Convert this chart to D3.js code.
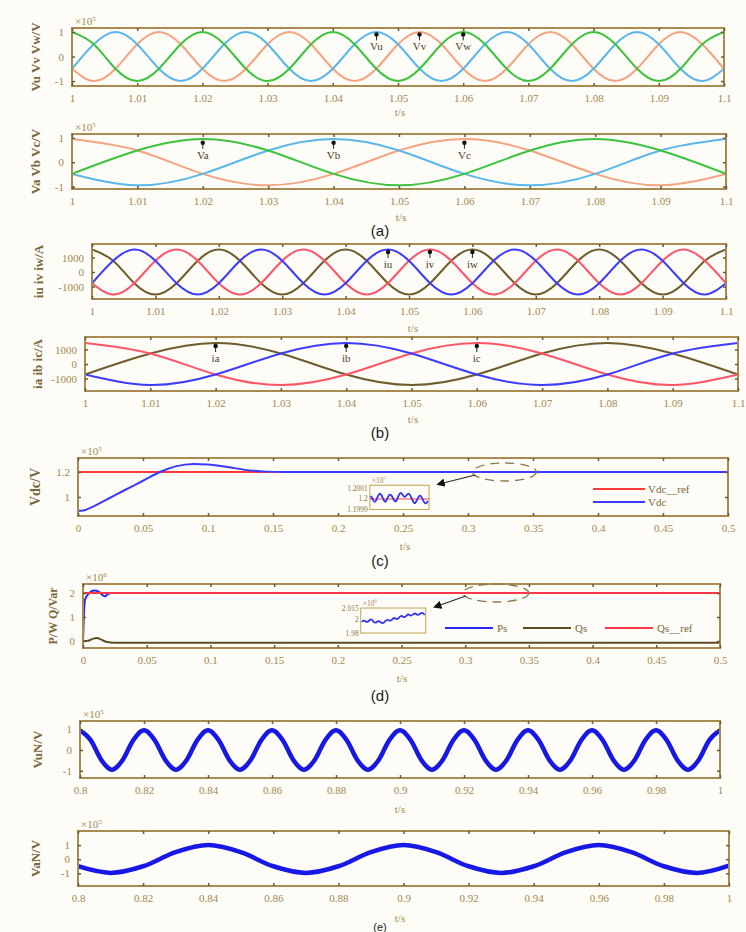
<!DOCTYPE html>
<html>
<head>
<meta charset="utf-8">
<script src="https://cdn.jsdelivr.net/npm/d3@7"></script>
<style>
  body { margin: 0; background: #fdfcf7; }
  svg { display: block; font-family: "Liberation Serif", "DejaVu Serif", serif; }
</style>
</head>
<body>
<script>
// ---- data ----

// (a) upper: Vu Vv Vw, x10^5 V, one sample every 1/300 s from t = 1
const vu = [-0.5,0.5,1,0.5,-0.5,-1, -0.5,0.5,1,0.5,-0.5,-1, -0.5,0.5,1,0.5,-0.5,-1,
            -0.5,0.5,1,0.5,-0.5,-1, -0.5,0.5,1,0.5,-0.5,-1, -0.5];
const vv = [-0.5,-1,-0.5,0.5,1,0.5, -0.5,-1,-0.5,0.5,1,0.5, -0.5,-1,-0.5,0.5,1,0.5,
            -0.5,-1,-0.5,0.5,1,0.5, -0.5,-1,-0.5,0.5,1,0.5, -0.5];
const vw = [1,0.5,-0.5,-1,-0.5,0.5, 1,0.5,-0.5,-1,-0.5,0.5, 1,0.5,-0.5,-1,-0.5,0.5,
            1,0.5,-0.5,-1,-0.5,0.5, 1,0.5,-0.5,-1,-0.5,0.5, 1];

// (a) lower: Va Vb Vc, one sample every 0.01 s from t = 1
const va = [-0.48,0.48,0.95,0.48,-0.48,-0.95,-0.48,0.48,0.95,0.48,-0.48];
const vb = [-0.48,-0.95,-0.48,0.48,0.95,0.48,-0.48,-0.95,-0.48,0.48,0.95];
const vc = [0.95,0.48,-0.48,-0.95,-0.48,0.48,0.95,0.48,-0.48,-0.95,-0.48];

// (b) upper: iu iv iw in A, every 1/300 s
const iu = [-775,775,1550,775,-775,-1550, -775,775,1550,775,-775,-1550, -775,775,1550,775,-775,-1550,
            -775,775,1550,775,-775,-1550, -775,775,1550,775,-775,-1550, -775];
const iv = [-775,-1550,-775,775,1550,775, -775,-1550,-775,775,1550,775, -775,-1550,-775,775,1550,775,
            -775,-1550,-775,775,1550,775, -775,-1550,-775,775,1550,775, -775];
const iw = [1550,775,-775,-1550,-775,775, 1550,775,-775,-1550,-775,775, 1550,775,-775,-1550,-775,775,
            1550,775,-775,-1550,-775,775, 1550,775,-775,-1550,-775,775, 1550];

// (b) lower: ia ib ic in A, every 0.01 s
const ia = [-725,725,1450,725,-725,-1450,-725,725,1450,725,-725];
const ib = [-725,-1450,-725,725,1450,725,-725,-1450,-725,725,1450];
const ic = [1450,725,-725,-1450,-725,725,1450,725,-725,-1450,-725];

// (c) DC voltage, x10^5 V
const tVdc = [0,0.004,0.012,0.024,0.035,0.05,0.063,0.075,0.089,0.1,0.115,0.13,0.145,0.16,0.2,0.5];
const vdc  = [0.89,0.892,0.925,0.99,1.05,1.13,1.2,1.245,1.265,1.26,1.24,1.215,1.203,1.2,1.2,1.2];
const tRef = [0,0.5];
const vdcRef = [1.2,1.2];
const vdcZoom = [1.20003,1.19999,1.19996,1.20001,1.20006,1.20004,1.19999,1.19996,1.20002,1.20005,
                 1.20003,1.19998,1.19997,1.20003,1.20007,1.20004,1.20001,1.20004,1.20006,1.20002,
                 1.19997,1.19995,1.2,1.20004,1.20002,1.19997,1.19995,1.19998];

// (d) powers, x10^6
const tPs = [0,0.0005,0.001,0.0015,0.003,0.006,0.009,0.012,0.015,0.017,0.019,0.022,0.5];
const ps  = [0,0.8,1.4,1.7,1.88,2.05,2.1,2.07,1.93,1.86,1.93,2.0,2.0];
const tQs = [0,0.004,0.008,0.011,0.014,0.018,0.025,0.5];
const qs  = [0,0.01,0.1,0.13,0.07,-0.03,-0.07,-0.07];
const qsRef = [2,2];
const psZoom = [1.996,1.999,1.995,1.997,2.001,1.996,1.994,1.998,1.996,1.993,1.997,2.0,1.997,1.999,
                2.003,1.999,2.002,2.006,2.002,2.004,2.008,2.004,2.007,2.009,2.005,2.008,2.01,2.006];

// (e) upper: VuN, every 1/300 s from t = 0.8
const vuN = [0.95,0.48,-0.48,-0.95,-0.48,0.48, 0.95,0.48,-0.48,-0.95,-0.48,0.48,
             0.95,0.48,-0.48,-0.95,-0.48,0.48, 0.95,0.48,-0.48,-0.95,-0.48,0.48,
             0.95,0.48,-0.48,-0.95,-0.48,0.48, 0.95,0.48,-0.48,-0.95,-0.48,0.48,
             0.95,0.48,-0.48,-0.95,-0.48,0.48, 0.95,0.48,-0.48,-0.95,-0.48,0.48,
             0.95,0.48,-0.48,-0.95,-0.48,0.48, 0.95,0.48,-0.48,-0.95,-0.48,0.48, 0.95];
// (e) lower: VaN, every 0.01 s from t = 0.8
const vaN = [-0.5,-0.97,-0.5,0.5,1,0.5,-0.5,-0.97,-0.5,0.5,1,0.5,-0.5,-0.97,-0.5,0.5,1,0.5,-0.5,-0.97,-0.45];

// sample times
const tFast1 = d3.range(31).map(i => 1 + i / 300);
const tSlow1 = d3.range(11).map(i => 1 + i / 100);
const tFastN = d3.range(61).map(i => 0.8 + i / 300);
const tSlowN = d3.range(21).map(i => 0.8 + i / 100);

// tick values
const ticksAB = [1,1.01,1.02,1.03,1.04,1.05,1.06,1.07,1.08,1.09,1.1];
const ticksCD = [0,0.05,0.1,0.15,0.2,0.25,0.3,0.35,0.4,0.45,0.5];
const ticksE  = [0.8,0.82,0.84,0.86,0.88,0.9,0.92,0.94,0.96,0.98,1];

// ---- drawing ----
const W = 746, H = 932;
const frameCol = '#a98b52', tickTextCol = '#a5884e', labelCol = '#7b673a';

const svg = d3.select('body').append('svg')
    .attr('width', W)
    .attr('height', H);
svg.append('rect').attr('width', W).attr('height', H).attr('fill', '#fdfcf7');

let clipCount = 0;
const fmt = d => String(+(+d).toFixed(4));

function styleAxis(sel) {
  sel.select('.domain').remove();
  sel.attr('font-family', null).attr('font-size', null);
  sel.selectAll('.tick line').attr('stroke', '#6b5a30').attr('stroke-width', 1.5);
  sel.selectAll('.tick text').attr('fill', tickTextCol).attr('font-size', 11);
}

function expLabel(x, y, p, size) {
  const t = svg.append('text')
      .attr('x', x).attr('y', y)
      .attr('font-size', size || 11)
      .attr('fill', tickTextCol)
      .text('×10');
  t.append('tspan').attr('dy', -4).attr('font-size', (size || 11) * 0.65).text(p);
}

function drawPanel(c) {
  const x = d3.scaleLinear().domain(c.xDomain).range([c.left, c.right]);
  const y = d3.scaleLinear().domain(c.yDomain).range([c.bottom, c.top]);
  const g = svg.append('g');

  const clipId = 'clip' + (clipCount++);
  svg.append('clipPath').attr('id', clipId).append('rect')
      .attr('x', c.left).attr('y', c.top)
      .attr('width', c.right - c.left).attr('height', c.bottom - c.top);
  const plot = g.append('g').attr('clip-path', `url(#${clipId})`);

  c.series.forEach(s => {
    const line = d3.line()
        .x(d => x(d[0]))
        .y(d => y(d[1]))
        .curve(s.curve || d3.curveNatural);
    plot.append('path')
        .datum(d3.zip(s.t, s.v))
        .attr('fill', 'none')
        .attr('stroke', s.color)
        .attr('stroke-width', s.width || 2)
        .attr('stroke-linejoin', 'round')
        .attr('d', line);
  });

  g.append('rect')
      .attr('x', c.left).attr('y', c.top)
      .attr('width', c.right - c.left).attr('height', c.bottom - c.top)
      .attr('fill', 'none')
      .attr('stroke', frameCol)
      .attr('stroke-width', 2);

  g.append('g').attr('transform', `translate(0,${c.bottom})`)
      .call(d3.axisBottom(x).tickValues(c.xTicks).tickFormat(fmt)
        .tickSizeInner(-3).tickSizeOuter(0).tickPadding(8))
      .call(styleAxis);
  g.append('g').attr('transform', `translate(0,${c.top})`)
      .call(d3.axisTop(x).tickValues(c.xTicks).tickFormat(() => '')
        .tickSizeInner(-3).tickSizeOuter(0))
      .call(styleAxis);
  g.append('g').attr('transform', `translate(${c.left},0)`)
      .call(d3.axisLeft(y).tickValues(c.yTicks).tickFormat(fmt)
        .tickSizeInner(-3).tickSizeOuter(0).tickPadding(8))
      .call(styleAxis);
  g.append('g').attr('transform', `translate(${c.right},0)`)
      .call(d3.axisRight(y).tickValues(c.yTicks).tickFormat(() => '')
        .tickSizeInner(-3).tickSizeOuter(0))
      .call(styleAxis);

  // y label
  g.append('text')
      .attr('transform', `translate(${c.labelX},${(c.top + c.bottom) / 2}) rotate(-90)`)
      .attr('text-anchor', 'middle')
      .attr('font-size', c.labelSize || 13)
      .attr('font-weight', 'bold')
      .attr('fill', labelCol)
      .text(c.yLabel);

  // x label
  g.append('text')
      .attr('x', c.tLabel[0]).attr('y', c.tLabel[1])
      .attr('text-anchor', 'middle')
      .attr('font-size', 11)
      .attr('fill', tickTextCol)
      .text('t/s');

  if (c.exp) expLabel(c.left + 3, c.top - 3, c.exp);

  (c.marks || []).forEach(m => {
    const mx = x(m.t), my = y(m.v);
    g.append('line')
        .attr('x1', mx).attr('x2', mx)
        .attr('y1', my).attr('y2', my + 6)
        .attr('stroke', '#222').attr('stroke-width', 1);
    g.append('circle').attr('cx', mx).attr('cy', my).attr('r', 2.2).attr('fill', '#111');
    g.append('text')
        .attr('x', mx).attr('y', my + 16)
        .attr('text-anchor', 'middle')
        .attr('font-size', 11)
        .attr('fill', '#4f4128')
        .text(m.label);
  });

  return {x, y, g};
}

function drawInset(p, box, vals, yDomain, yTicks, exp, refVal) {
  const x0 = p.x(box.t0), x1 = p.x(box.t1);
  const y0 = p.y(box.vTop), y1 = p.y(box.vBot);
  const xs = d3.scaleLinear().domain([0, vals.length - 1]).range([x0 + 1, x1 - 1]);
  const ys = d3.scaleLinear().domain(yDomain).range([y1, y0]);
  const g = svg.append('g');
  g.append('rect')
      .attr('x', x0).attr('y', y0).attr('width', x1 - x0).attr('height', y1 - y0)
      .attr('fill', '#fdfcf7').attr('stroke', '#c4a44c').attr('stroke-width', 1);
  if (refVal !== undefined) {
    g.append('line')
        .attr('x1', x0).attr('x2', x1)
        .attr('y1', ys(refVal)).attr('y2', ys(refVal))
        .attr('stroke', '#ff4040').attr('stroke-width', 1);
  }
  g.append('path')
      .datum(vals)
      .attr('fill', 'none')
      .attr('stroke', '#3434f0')
      .attr('stroke-width', 1.8)
      .attr('d', d3.line().x((d, i) => xs(i)).y(d => ys(d)).curve(d3.curveBasis));
  yTicks.forEach(v => {
    g.append('text')
        .attr('x', x0 - 2).attr('y', ys(v) + 2.5)
        .attr('text-anchor', 'end')
        .attr('font-size', 7.5)
        .attr('fill', '#8f7643')
        .text(fmt(v));
  });
  expLabel(x0 + 2, y0 - 2, exp, 7.5);
  return {x0, x1, y0, y1};
}

function drawCallout(p, t, v, rx, ry, inset) {
  const cx = p.x(t), cy = p.y(v);
  svg.append('ellipse')
      .attr('cx', cx).attr('cy', cy).attr('rx', rx).attr('ry', ry)
      .attr('fill', 'none')
      .attr('stroke', '#8d7747')
      .attr('stroke-width', 1.3)
      .attr('stroke-dasharray', '9,6');
  svg.append('line')
      .attr('x1', cx - rx + 3).attr('y1', cy + 3)
      .attr('x2', inset.x1 + 9).attr('y2', inset.y0 - 1)
      .attr('stroke', '#2a2a2a').attr('stroke-width', 1.2)
      .attr('marker-end', 'url(#arrow)');
}

svg.append('defs').append('marker')
    .attr('id', 'arrow')
    .attr('viewBox', '0 0 10 10')
    .attr('refX', 8).attr('refY', 5)
    .attr('markerWidth', 7).attr('markerHeight', 7)
    .attr('orient', 'auto')
  .append('path')
    .attr('d', 'M0,0 L10,5 L0,10 z')
    .attr('fill', '#111');

const skyBlue = '#5ab7ea', salmon = '#f4a383', green = '#3cc23c';
const iBlue = '#3c3cff', iRed = '#ff5468', iBrown = '#6e5c2c';

// (a) upper
drawPanel({
  left: 72, right: 724, top: 28, bottom: 86,
  xDomain: [1, 1.1], yDomain: [-1.2, 1.16],
  xTicks: ticksAB, yTicks: [-1, 0, 1],
  yLabel: 'Vu Vv Vw/V', labelX: 40, tLabel: [400, 116], exp: '5',
  series: [
    {t: tFast1, v: vv, color: salmon},
    {t: tFast1, v: vu, color: skyBlue},
    {t: tFast1, v: vw, color: green}
  ],
  marks: [
    {t: 1.0467, v: 0.9, label: 'Vu'},
    {t: 1.0533, v: 0.9, label: 'Vv'},
    {t: 1.06, v: 0.9, label: 'Vw'}
  ]
});

// (a) lower
drawPanel({
  left: 72, right: 726, top: 134, bottom: 189,
  xDomain: [1, 1.1], yDomain: [-1.1, 1.16],
  xTicks: ticksAB, yTicks: [-1, 0, 1],
  yLabel: 'Va Vb Vc/V', labelX: 40, tLabel: [401, 221], exp: '5',
  series: [
    {t: tSlow1, v: vc, color: salmon},
    {t: tSlow1, v: vb, color: skyBlue},
    {t: tSlow1, v: va, color: green}
  ],
  marks: [
    {t: 1.02, v: 0.8, label: 'Va'},
    {t: 1.04, v: 0.8, label: 'Vb'},
    {t: 1.06, v: 0.8, label: 'Vc'}
  ]
});

// (b) upper
drawPanel({
  left: 92, right: 726, top: 244, bottom: 299,
  xDomain: [1, 1.1], yDomain: [-1860, 1930],
  xTicks: ticksAB, yTicks: [-1000, 0, 1000],
  yLabel: 'iu iv iw/A', labelX: 43, tLabel: [413, 332],
  series: [
    {t: tFast1, v: iw, color: iBrown},
    {t: tFast1, v: iv, color: iRed},
    {t: tFast1, v: iu, color: iBlue}
  ],
  marks: [
    {t: 1.0467, v: 1380, label: 'iu'},
    {t: 1.0533, v: 1380, label: 'iv'},
    {t: 1.06, v: 1380, label: 'iw'}
  ]
});

// (b) lower
drawPanel({
  left: 85, right: 738, top: 337, bottom: 391,
  xDomain: [1, 1.1], yDomain: [-1860, 1860],
  xTicks: ticksAB, yTicks: [-1000, 0, 1000],
  yLabel: 'ia ib ic/A', labelX: 42, tLabel: [413, 423],
  series: [
    {t: tSlow1, v: ia, color: iBrown},
    {t: tSlow1, v: ic, color: iRed},
    {t: tSlow1, v: ib, color: iBlue}
  ],
  marks: [
    {t: 1.02, v: 1240, label: 'ia'},
    {t: 1.04, v: 1240, label: 'ib'},
    {t: 1.06, v: 1240, label: 'ic'}
  ]
});

// (c)
const pc = drawPanel({
  left: 78, right: 728, top: 458, bottom: 516,
  xDomain: [0, 0.5], yDomain: [0.848, 1.312],
  xTicks: ticksCD, yTicks: [1, 1.2],
  yLabel: 'Vdc/V', labelX: 40, labelSize: 14, tLabel: [405, 550], exp: '5',
  series: [
    {t: tRef, v: vdcRef, color: '#ff3838', curve: d3.curveLinear},
    {t: tVdc, v: vdc, color: '#3a3aff', curve: d3.curveMonotoneX}
  ]
});
const insetC = drawInset(pc, {t0: 0.2245, t1: 0.2700, vTop: 1.094, vBot: 0.9},
    vdcZoom, [1.19990, 1.20013], [1.2001, 1.2, 1.1999], '5', 1.2);
drawCallout(pc, 0.328, 1.2, 32, 9, insetC);

// legend (c)
[['Vdc__ref', '#ff3838'], ['Vdc', '#3a3aff']].forEach((d, i) => {
  const ly = 489 + i * 13;
  svg.append('line').attr('x1', 593).attr('x2', 645).attr('y1', ly).attr('y2', ly)
      .attr('stroke', d[1]).attr('stroke-width', 2);
  svg.append('text').attr('x', 648).attr('y', ly + 4)
      .attr('font-size', 11).attr('fill', labelCol).text(d[0]);
});

// (d)
const pd = drawPanel({
  left: 83, right: 720, top: 584, bottom: 648,
  xDomain: [0, 0.5], yDomain: [-0.29, 2.375],
  xTicks: ticksCD, yTicks: [0, 1, 2],
  yLabel: 'P/W Q/Var', labelX: 57, labelSize: 12, tLabel: [402, 682], exp: '6',
  series: [
    {t: tPs, v: ps, color: '#2828f5', curve: d3.curveMonotoneX},
    {t: tQs, v: qs, color: '#5c4c22', curve: d3.curveMonotoneX},
    {t: tRef, v: qsRef, color: '#ff3848', curve: d3.curveLinear}
  ]
});
const insetD = drawInset(pd, {t0: 0.218, t1: 0.269, vTop: 1.375, vBot: 0.333},
    psZoom, [1.98, 2.016], [2.015, 2, 1.98], '6');
drawCallout(pd, 0.324, 2.0, 33, 9, insetD);

// legend (d)
[['Ps', '#2828f5', 445], ['Qs', '#5c4c22', 523], ['Qs__ref', '#ff3848', 605]].forEach(d => {
  svg.append('line').attr('x1', d[2]).attr('x2', d[2] + 48).attr('y1', 628).attr('y2', 628)
      .attr('stroke', d[1]).attr('stroke-width', 2);
  svg.append('text').attr('x', d[2] + 52).attr('y', 632)
      .attr('font-size', 11).attr('fill', labelCol).text(d[0]);
});

// (e) upper
drawPanel({
  left: 80, right: 720, top: 721, bottom: 778,
  xDomain: [0.8, 1], yDomain: [-1.35, 1.4],
  xTicks: ticksE, yTicks: [-1, 0, 1],
  yLabel: 'VuN/V', labelX: 42, tLabel: [400, 813], exp: '5',
  series: [
    {t: tFastN, v: vuN, color: '#1818e6', width: 4.5, curve: d3.curveMonotoneX}
  ]
});

// (e) lower
drawPanel({
  left: 78, right: 729, top: 831, bottom: 886,
  xDomain: [0.8, 1], yDomain: [-1.9, 2.0],
  xTicks: ticksE, yTicks: [-1, 0, 1],
  yLabel: 'VaN/V', labelX: 40, tLabel: [400, 922], exp: '5',
  series: [
    {t: tSlowN, v: vaN, color: '#1818e6', width: 4.5, curve: d3.curveMonotoneX}
  ]
});

// sub-figure captions
[['(a)', 236, 15], ['(b)', 438, 15], ['(c)', 566, 15], ['(d)', 701, 15], ['(e)', 931, 11]].forEach(d => {
  svg.append('text')
      .attr('x', 380).attr('y', d[1])
      .attr('text-anchor', 'middle')
      .attr('font-family', '"Liberation Sans", Arial, sans-serif')
      .attr('font-size', d[2])
      .attr('fill', '#222')
      .text(d[0]);
});
</script>
</body>
</html>
